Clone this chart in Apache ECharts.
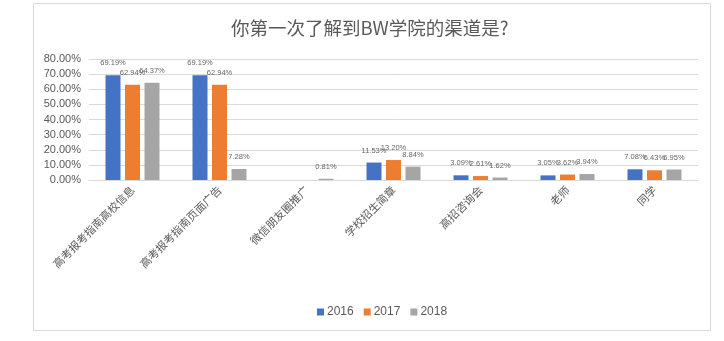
<!DOCTYPE html>
<html>
<head>
<meta charset="utf-8">
<script src="https://cdn.jsdelivr.net/npm/echarts@6/dist/echarts.min.js"></script>
<style>
  html, body { margin: 0; padding: 0; background: #fff; }
  #chart { width: 724px; height: 341px; }
</style>
</head>
<body>
<div id="chart"></div>
<script>
// Survey answers: share of respondents per channel, by year (percent)
const categories = ['高考报考指南高校信息', '高考报考指南页面广告', '微信朋友圈推广', '学校招生简章', '高招咨询会', '老师', '同学'];
const years = ['2016', '2017', '2018'];
const values2016 = [69.19, 69.19, null, 11.53, 3.09, 3.05, 7.08];
const values2017 = [62.94, 62.94, null, 13.20, 2.61, 3.62, 6.43];
const values2018 = [64.37, 7.28, 0.81, 8.84, 1.62, 3.94, 6.95];
const colors = ['#4472C4', '#ED7D31', '#A5A5A5'];

const textColor = '#595959';
const fontFam = '"Noto Sans CJK SC", "Liberation Sans", sans-serif';

function makeSeries(name, data, color) {
  return {
    name: name,
    type: 'bar',
    data: data,
    barWidth: 15,
    barGap: '30%',
    itemStyle: { color: color },
    label: {
      show: true,
      position: 'top',
      distance: 8,
      fontSize: 7.5,
      fontFamily: '"Liberation Sans", sans-serif',
      color: '#666',
      formatter: p => p.value == null ? '' : p.value.toFixed(2) + '%'
    }
  };
}

const chart = echarts.init(document.getElementById('chart'));
chart.setOption({
  animation: false,
  backgroundColor: '#fff',
  textStyle: { fontFamily: fontFam },
  graphic: [{
    type: 'rect',
    shape: { x: 33.5, y: 3.5, width: 677, height: 327 },
    style: { fill: 'none', stroke: '#d9d9d9', lineWidth: 1 },
    silent: true,
    z: -1
  }],
  title: {
    text: '你第一次了解到BW学院的渠道是?',
    left: 226,
    top: 14,
    textStyle: { fontSize: 18.5, fontWeight: 'normal', color: textColor, fontFamily: fontFam }
  },
  legend: {
    data: years,
    bottom: 18,
    left: 312,
    icon: 'rect',
    itemWidth: 7,
    itemHeight: 7,
    itemGap: 10,
    textStyle: { fontSize: 12, color: textColor, fontFamily: '"Liberation Sans", sans-serif', padding: [0, 0, 0, -2] }
  },
  grid: { left: 89, right: 26, top: 59, bottom: 161 },
  xAxis: {
    type: 'category',
    data: categories,
    axisLine: { lineStyle: { color: '#d9d9d9' } },
    axisTick: { show: false },
    axisLabel: { rotate: 45, interval: 0, fontSize: 11, color: textColor, margin: 8 }
  },
  yAxis: {
    type: 'value',
    min: 0,
    max: 80,
    interval: 10,
    axisLine: { show: false },
    axisTick: { show: false },
    splitLine: { lineStyle: { color: '#d9d9d9' } },
    axisLabel: {
      fontSize: 11,
      color: textColor,
      fontFamily: '"Liberation Sans", sans-serif',
      margin: 8,
      formatter: v => v.toFixed(2) + '%'
    }
  },
  series: [
    makeSeries(years[0], values2016, colors[0]),
    makeSeries(years[1], values2017, colors[1]),
    makeSeries(years[2], values2018, colors[2])
  ]
});
</script>
</body>
</html>
